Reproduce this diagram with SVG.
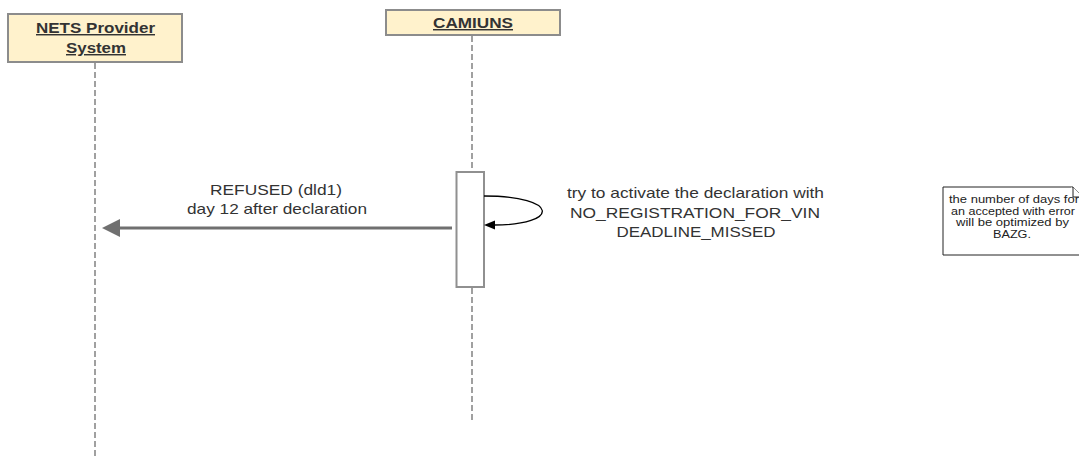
<svg xmlns="http://www.w3.org/2000/svg" width="1079" height="458" viewBox="0 0 1079 458">
<style>
.actor{fill:#fff2cc;stroke:#8c8c8c;stroke-width:2}
.atext{font-family:"Liberation Sans",Arial,sans-serif;font-size:14.5px;font-weight:bold;fill:#333;text-decoration:underline;text-anchor:middle}
.life{stroke:#a0a0a0;stroke-width:2;stroke-dasharray:6 3;fill:none}
.lbl{font-family:"Liberation Sans",Arial,sans-serif;font-size:14.5px;fill:#333;text-anchor:middle}
.note{font-family:"Liberation Sans",Arial,sans-serif;font-size:10.5px;fill:#222;text-anchor:middle}
</style>
<g id="lifelines">
<line class="life" x1="95" y1="63" x2="95" y2="458"/>
<line class="life" x1="472" y1="36" x2="472" y2="420"/>
</g>
<g id="nets">
<rect class="actor" x="8" y="14" width="174" height="48"/>
<text class="atext" x="95.5" y="33" textLength="119" lengthAdjust="spacingAndGlyphs">NETS Provider</text>
<text class="atext" x="96" y="53" textLength="60" lengthAdjust="spacingAndGlyphs">System</text>
</g>
<g id="camiuns">
<rect class="actor" x="386" y="10" width="174" height="25"/>
<text class="atext" x="473" y="28" textLength="80" lengthAdjust="spacingAndGlyphs">CAMIUNS</text>
</g>
<g id="activation">
<rect x="456.5" y="172" width="27.5" height="115" fill="#fff" stroke="#909090" stroke-width="2"/>
</g>
<g id="connectors">
<line x1="452" y1="228" x2="118" y2="228" stroke="#707070" stroke-width="3"/>
<path d="M102,228 L120,219 L120,237 Z" fill="#707070"/>
<path d="M484,196 C560,196 560,225 494,225" fill="none" stroke="#000" stroke-width="1.3"/>
<path d="M484,225 L495,220.5 L495,229.5 Z" fill="#000"/>
</g>
<g id="labels">
<text class="lbl" x="276" y="195" textLength="132" lengthAdjust="spacingAndGlyphs">REFUSED (dld1)</text>
<text class="lbl" x="277" y="214" textLength="180" lengthAdjust="spacingAndGlyphs">day 12 after declaration</text>
<text class="lbl" x="695.5" y="198" textLength="257" lengthAdjust="spacingAndGlyphs">try to activate the declaration with</text>
<text class="lbl" x="695" y="218" textLength="250" lengthAdjust="spacingAndGlyphs">NO_REGISTRATION_FOR_VIN</text>
<text class="lbl" x="696" y="237" textLength="159" lengthAdjust="spacingAndGlyphs">DEADLINE_MISSED</text>
</g>
<g id="note">
<path d="M943,187 L1073,187 L1083,197 L1083,255 L943,255 Z" fill="#fff" stroke="#222" stroke-width="1"/>
<text class="note" x="1014" y="203" textLength="130" lengthAdjust="spacingAndGlyphs">the number of days for</text>
<text class="note" x="1013" y="214.5" textLength="124" lengthAdjust="spacingAndGlyphs">an accepted with error</text>
<text class="note" x="1012.5" y="226" textLength="113" lengthAdjust="spacingAndGlyphs">will be optimized by</text>
<text class="note" x="1012" y="237.5" textLength="38" lengthAdjust="spacingAndGlyphs">BAZG.</text>
<path d="M1071,187 L1071,197 L1081,197 Z" fill="#fff" stroke="none"/>
<path d="M1073,187 L1083,197 L1073,197 Z" fill="#fff" stroke="none"/>
<path d="M1073,187 L1073,197 L1083,197" fill="none" stroke="#222" stroke-width="1"/>
</g>
</svg>
